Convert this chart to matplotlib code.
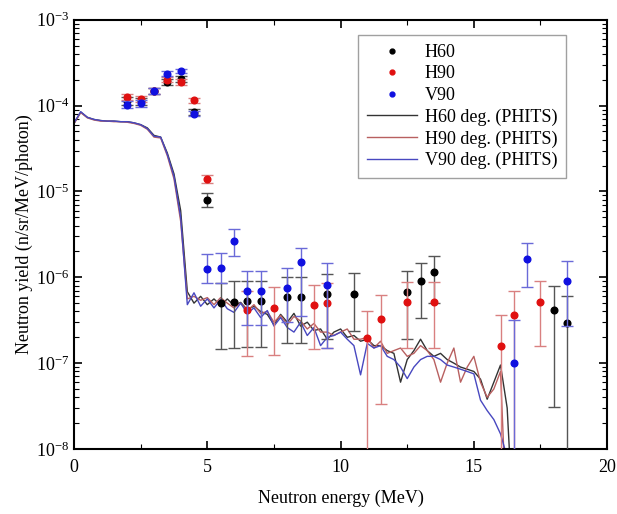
import numpy as np
import matplotlib
matplotlib.use("Agg")
import matplotlib.pyplot as plt
from matplotlib.ticker import LogLocator, MultipleLocator, LogFormatterMathtext, NullFormatter
from matplotlib.lines import Line2D

plt.rcParams['font.family'] = ['Liberation Serif', 'DejaVu Serif']
plt.rcParams['mathtext.fontset'] = 'custom'
plt.rcParams['mathtext.rm'] = 'Liberation Serif'
plt.rcParams['mathtext.it'] = 'Liberation Serif:italic'

# ---------------- PHITS simulation curves ----------------
sim_energy = [0.00, 0.25, 0.50, 0.75, 1.00, 1.25, 1.50, 1.75, 2.00, 2.25,
              2.50, 2.75, 3.00, 3.25, 3.50, 3.75, 4.00, 4.25, 4.50, 4.75,
              5.00, 5.25, 5.50, 5.75, 6.00, 6.25, 6.50, 6.75, 7.00, 7.25,
              7.50, 7.75, 8.00, 8.25, 8.50, 8.75, 9.00, 9.25, 9.50, 9.75,
              10.00, 10.25, 10.50, 10.75, 11.00, 11.25, 11.50, 11.75, 12.00, 12.25,
              12.50, 12.75, 13.00, 13.25, 13.50, 13.75, 14.00, 14.25, 14.50, 14.75,
              15.00, 15.25, 15.50, 15.75, 16.00, 16.25, 16.50]

sim_h60 = [6.2e-5, 8.4e-5, 7.3e-5, 6.9e-5, 6.7e-5, 6.6e-5, 6.6e-5, 6.5e-5, 6.5e-5, 6.3e-5,
           6.0e-5, 5.5e-5, 4.5e-5, 4.3e-5, 2.8e-5, 1.6e-5, 6.0e-6, 6.8e-7, 5.0e-7, 6.0e-7,
           4.8e-7, 5.6e-7, 4.7e-7, 5.6e-7, 4.7e-7, 5.1e-7, 4.2e-7, 4.6e-7, 4.0e-7, 3.7e-7,
           2.8e-7, 3.7e-7, 3.0e-7, 3.8e-7, 2.7e-7, 3.0e-7, 2.4e-7, 2.5e-7, 1.9e-7, 2.3e-7,
           2.5e-7, 2.0e-7, 2.1e-7, 1.8e-7, 1.9e-7, 1.6e-7, 1.6e-7, 1.4e-7, 1.3e-7, 6.0e-8,
           1.1e-7, 1.4e-7, 1.9e-7, 1.4e-7, 1.2e-7, 1.3e-7, 1.1e-7, 1.0e-7, 9.0e-8, 8.5e-8,
           8.0e-8, 6.5e-8, 3.8e-8, 6.0e-8, 9.5e-8, 3.0e-8, 1.0e-9]

sim_h90 = [6.2e-5, 8.3e-5, 7.2e-5, 6.8e-5, 6.6e-5, 6.6e-5, 6.5e-5, 6.5e-5, 6.4e-5, 6.2e-5,
           5.9e-5, 5.3e-5, 4.3e-5, 4.2e-5, 2.6e-5, 1.4e-5, 4.5e-6, 5.6e-7, 6.0e-7, 5.4e-7,
           5.8e-7, 4.8e-7, 5.8e-7, 5.0e-7, 4.4e-7, 5.0e-7, 4.1e-7, 4.8e-7, 3.8e-7, 4.0e-7,
           3.0e-7, 3.6e-7, 2.8e-7, 3.5e-7, 3.1e-7, 2.5e-7, 2.9e-7, 2.3e-7, 2.3e-7, 2.1e-7,
           2.3e-7, 2.5e-7, 1.9e-7, 1.9e-7, 2.0e-7, 1.5e-7, 1.8e-7, 1.3e-7, 1.4e-7, 1.5e-7,
           1.2e-7, 1.3e-7, 1.6e-7, 1.4e-7, 1.1e-7, 6.0e-8, 1.0e-7, 1.5e-7, 6.0e-8, 9.0e-8,
           1.2e-7, 6.0e-8, 4.0e-8, 5.0e-8, 8.0e-8, 1.0e-9, 1.0e-9]

sim_v90 = [6.3e-5, 8.5e-5, 7.3e-5, 6.9e-5, 6.7e-5, 6.6e-5, 6.6e-5, 6.5e-5, 6.5e-5, 6.3e-5,
           6.0e-5, 5.4e-5, 4.4e-5, 4.3e-5, 2.7e-5, 1.5e-5, 5.0e-6, 4.8e-7, 6.6e-7, 4.6e-7,
           5.6e-7, 4.4e-7, 5.5e-7, 4.3e-7, 3.9e-7, 5.0e-7, 3.8e-7, 4.4e-7, 3.4e-7, 4.1e-7,
           2.7e-7, 3.4e-7, 2.6e-7, 2.3e-7, 3.0e-7, 2.1e-7, 2.6e-7, 1.6e-7, 2.0e-7, 2.1e-7,
           2.3e-7, 1.9e-7, 1.6e-7, 7.3e-8, 1.7e-7, 1.5e-7, 1.6e-7, 1.2e-7, 1.1e-7, 9.0e-8,
           6.6e-8, 9.0e-8, 1.1e-7, 1.2e-7, 1.2e-7, 1.1e-7, 9.5e-8, 9.0e-8, 8.5e-8, 8.0e-8,
           7.5e-8, 3.7e-8, 2.8e-8, 2.2e-8, 1.5e-8, 8.0e-9, 1.0e-9]

# ---------------- Measured data ----------------
h60_energy = [2.0, 2.5, 3.0, 3.5, 4.0, 4.5, 5.0, 5.5, 6.0, 6.5, 7.0, 8.0, 8.5, 9.5,
              10.5, 12.5, 13.0, 13.5, 18.0, 18.5]
h60_value = [1.14e-4, 1.12e-4, 1.5e-4, 1.88e-4, 2.05e-4, 0.85e-4, 8.0e-6, 5.0e-7, 5.2e-7, 5.3e-7,
             5.3e-7, 5.9e-7, 5.9e-7, 6.4e-7, 6.4e-7, 6.8e-7, 9.0e-7, 1.14e-6, 4.2e-7, 2.9e-7]
h60_low = [1.03e-4, 1.02e-4, 1.38e-4, 1.75e-4, 1.9e-4, 0.78e-4, 6.6e-6, 1.46e-7, 1.5e-7, 1.55e-7,
           1.55e-7, 1.7e-7, 1.7e-7, 1.9e-7, 2.4e-7, 1.9e-7, 3.4e-7, 5.0e-7, 3.1e-8, 1.0e-9]
h60_high = [1.26e-4, 1.23e-4, 1.62e-4, 2.02e-4, 2.2e-4, 0.92e-4, 9.6e-6, 8.6e-7, 9.1e-7, 9.1e-7,
            9.1e-7, 1.0e-6, 1.0e-6, 1.1e-6, 1.11e-6, 1.17e-6, 1.46e-6, 1.77e-6, 7.9e-7, 6.1e-7]

h90_energy = [2.0, 2.5, 3.0, 3.5, 4.0, 4.5, 5.0, 6.5, 7.5, 9.0, 9.5, 11.0, 11.5,
              12.5, 13.5, 16.0, 16.5, 17.5]
h90_value = [1.26e-4, 1.2e-4, 1.5e-4, 2.0e-4, 1.88e-4, 1.15e-4, 1.39e-5, 4.2e-7, 4.4e-7, 4.8e-7,
             5.0e-7, 1.95e-7, 3.3e-7, 5.2e-7, 5.2e-7, 1.6e-7, 3.6e-7, 5.2e-7]
h90_low = [1.15e-4, 1.1e-4, 1.38e-4, 1.86e-4, 1.75e-4, 1.08e-4, 1.25e-5, 1.2e-7, 1.25e-7, 1.45e-7,
           1.5e-7, 1.0e-9, 3.3e-8, 1.5e-7, 1.5e-7, 1.0e-9, 1.0e-9, 1.6e-7]
h90_high = [1.38e-4, 1.31e-4, 1.62e-4, 2.15e-4, 2.02e-4, 1.22e-4, 1.55e-5, 7.0e-7, 7.8e-7, 8.2e-7,
            8.5e-7, 4.1e-7, 6.2e-7, 8.9e-7, 8.9e-7, 3.6e-7, 7.0e-7, 9.1e-7]

v90_energy = [2.0, 2.5, 3.0, 3.5, 4.0, 4.5, 5.0, 5.5, 6.0, 6.5, 7.0, 8.0, 8.5, 9.5,
              16.5, 17.0, 18.5]
v90_value = [1.02e-4, 1.06e-4, 1.5e-4, 2.35e-4, 2.55e-4, 0.8e-4, 1.25e-6, 1.3e-6, 2.68e-6, 6.9e-7,
             6.9e-7, 7.6e-7, 1.5e-6, 8.2e-7, 1.0e-7, 1.63e-6, 9.1e-7]
v90_low = [0.93e-4, 0.97e-4, 1.38e-4, 2.2e-4, 2.4e-4, 0.75e-4, 8.5e-7, 8.5e-7, 1.75e-6, 2.8e-7,
           2.8e-7, 3.0e-7, 3.5e-7, 1.5e-7, 1.0e-9, 7.7e-7, 2.7e-7]
v90_high = [1.12e-4, 1.16e-4, 1.62e-4, 2.5e-4, 2.7e-4, 0.86e-4, 1.87e-6, 1.9e-6, 3.7e-6, 1.2e-6,
            1.2e-6, 1.3e-6, 2.2e-6, 1.45e-6, 3.2e-7, 2.5e-6, 1.55e-6]

fig = plt.figure(figsize=(6.17, 5.14), dpi=100)
ax = fig.add_axes([0.12, 0.1265, 0.864, 0.835])


def draw_points(e, v, lo, hi, mcolor, ecolor, label, z):
    v = np.array(v); lo = np.array(lo); hi = np.array(hi)
    yerr = np.vstack([v - lo, hi - v])
    ax.errorbar(e, v, yerr=yerr, fmt='o', ms=4.8, color=mcolor, mec=mcolor,
                ecolor=ecolor, elinewidth=1.0, capsize=4, capthick=1.0,
                label=label, zorder=z)


draw_points(h60_energy, h60_value, h60_low, h60_high, 'black', '#555555', 'H60', 3)
draw_points(h90_energy, h90_value, h90_low, h90_high, '#e01010', '#d98080', 'H90', 4)
draw_points(v90_energy, v90_value, v90_low, v90_high, '#1010e0', '#6a6ad8', 'V90', 5)

ax.plot(sim_energy, sim_h60, color='#333333', lw=1.0, label='H60 deg. (PHITS)', zorder=2)
ax.plot(sim_energy, sim_h90, color='#b86060', lw=1.0, label='H90 deg. (PHITS)', zorder=2)
ax.plot(sim_energy, sim_v90, color='#4848c0', lw=1.0, label='V90 deg. (PHITS)', zorder=2)

ax.set_yscale('log')
ax.set_xlim(0, 20)
ax.set_ylim(1e-8, 1e-3)

ax.xaxis.set_major_locator(MultipleLocator(5))
ax.xaxis.set_minor_locator(MultipleLocator(2.5))
ax.yaxis.set_major_locator(LogLocator(base=10, numticks=10))
ax.yaxis.set_minor_locator(LogLocator(base=10, subs=np.arange(2, 10), numticks=20))
ax.yaxis.set_major_formatter(LogFormatterMathtext())
ax.yaxis.set_minor_formatter(NullFormatter())

ax.tick_params(which='both', direction='in', top=True, right=True, labelsize=13)
ax.tick_params(which='major', length=6, width=1.2)
ax.tick_params(which='minor', length=3.5, width=0.8)
ax.tick_params(axis='x', pad=7)
for s in ax.spines.values():
    s.set_linewidth(1.5)

ax.set_xlabel('Neutron energy (MeV)', fontsize=13, labelpad=10)
ax.set_ylabel('Neutron yield (n/sr/MeV/photon)', fontsize=13, labelpad=2)

handles, labels = ax.get_legend_handles_labels()
pt_handles = [Line2D([], [], marker='o', ls='none', ms=3.5, color=c) for c in ['black', '#e01010', '#1010e0']]
order = ['H60', 'H90', 'V90', 'H60 deg. (PHITS)', 'H90 deg. (PHITS)', 'V90 deg. (PHITS)']
hmap = dict(zip(labels, handles))
hl = pt_handles + [hmap[o] for o in order[3:]]
leg = ax.legend(hl, order, loc='upper right', bbox_to_anchor=(0.923, 0.965), fontsize=13,
                frameon=True, fancybox=False, edgecolor='#888888', handlelength=2.8,
                borderpad=0.5, labelspacing=0.25, handletextpad=0.4, borderaxespad=0)
leg.get_frame().set_linewidth(1.0)

fig.savefig('out.png', dpi=100)
